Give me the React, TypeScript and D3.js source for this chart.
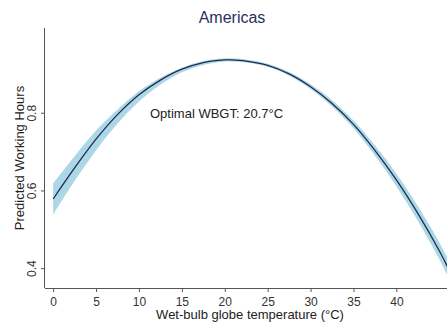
import React, { useEffect, useRef } from "react";
import * as d3 from "d3";

const wbgt = [0, 2.5, 5, 7.5, 10, 12.5, 15, 17.5, 20, 20.7, 22.5, 25, 27.5, 30, 32.5, 35, 37.5, 40, 42.5, 45, 46];
const predicted = [0.578, 0.658, 0.732, 0.795, 0.846, 0.884, 0.912, 0.929, 0.936, 0.936, 0.933, 0.922, 0.9, 0.867, 0.824, 0.77, 0.703, 0.627, 0.541, 0.445, 0.402];
const lower = [0.538, 0.624, 0.703, 0.772, 0.829, 0.872, 0.904, 0.923, 0.932, 0.932, 0.929, 0.918, 0.895, 0.861, 0.816, 0.76, 0.69, 0.611, 0.522, 0.423, 0.379];
const upper = [0.618, 0.688, 0.754, 0.808, 0.855, 0.89, 0.916, 0.933, 0.94, 0.94, 0.937, 0.926, 0.905, 0.873, 0.832, 0.78, 0.716, 0.643, 0.56, 0.467, 0.425];
const xTicks = [0, 5, 10, 15, 20, 25, 30, 35, 40];
const yTicks = [0.4, 0.6, 0.8];
const title = "Americas";
const optimalLabel = "Optimal WBGT: 20.7°C";

const W = 447;
const H = 323;

const App = () => {
  const svgRef = useRef<SVGSVGElement>(null);

  useEffect(() => {
    const svg = d3.select(svgRef.current);
    svg.selectAll("*").remove();

    const left = 45, right = 447, top = 28, bottom = 288;
    const x = d3.scaleLinear().domain([-0.95, 45.9]).range([left, right]);
    const y = d3.scaleLinear().domain([0.349, 1.018]).range([bottom, top]);

    const rows = wbgt.map((t, i) => ({ t, p: predicted[i], lo: lower[i], hi: upper[i] }));

    svg.append("defs")
      .append("clipPath")
      .attr("id", "plotClip")
      .append("rect")
      .attr("x", left)
      .attr("y", top)
      .attr("width", right - left)
      .attr("height", bottom - top);

    const plot = svg.append("g").attr("clip-path", "url(#plotClip)");

    const area = d3.area<any>()
      .x((d) => x(d.t))
      .y0((d) => y(d.lo))
      .y1((d) => y(d.hi))
      .curve(d3.curveCatmullRom);
    plot.append("path").datum(rows).attr("d", area).attr("fill", "#acd7e6");

    const line = d3.line<any>()
      .x((d) => x(d.t))
      .y((d) => y(d.p))
      .curve(d3.curveCatmullRom);
    plot.append("path")
      .datum(rows)
      .attr("d", line)
      .attr("fill", "none")
      .attr("stroke", "#1f2b52")
      .attr("stroke-width", 1.3);

    const font = "'Liberation Sans', Arial, sans-serif";

    // x axis
    const gx = svg.append("g")
      .attr("transform", `translate(0,${bottom})`)
      .call(d3.axisBottom(x).tickValues(xTicks).tickSize(4).tickSizeOuter(0).tickPadding(5));
    gx.select(".domain").attr("stroke", "#555").attr("d", `M${left},0.5H${right}`);
    gx.selectAll(".tick line").attr("stroke", "#555");
    gx.selectAll(".tick text").attr("fill", "#333").style("font-family", font).style("font-size", "12px");

    // y axis
    const gy = svg.append("g")
      .attr("transform", `translate(${left},0)`)
      .call(d3.axisLeft(y).tickValues(yTicks).tickFormat(d3.format(".1f")).tickSize(4).tickSizeOuter(0));
    gy.select(".domain").attr("stroke", "#555").attr("d", `M-0.5,${top}V${bottom}`);
    gy.selectAll(".tick line").attr("stroke", "#555");
    gy.selectAll(".tick text")
      .attr("fill", "#333")
      .attr("x", null)
      .attr("dy", null)
      .attr("text-anchor", "middle")
      .attr("transform", "translate(-9,0) rotate(-90)")
      .style("font-family", font)
      .style("font-size", "12px");

    svg.append("text")
      .attr("x", 232)
      .attr("y", 23)
      .attr("text-anchor", "middle")
      .attr("fill", "#27335e")
      .style("font-family", font)
      .style("font-size", "16px")
      .text(title);

    svg.append("text")
      .attr("x", 250)
      .attr("y", 319)
      .attr("text-anchor", "middle")
      .attr("fill", "#222")
      .style("font-family", font)
      .style("font-size", "13px")
      .text("Wet-bulb globe temperature (°C)");

    svg.append("text")
      .attr("transform", `translate(24,${(top + bottom) / 2}) rotate(-90)`)
      .attr("text-anchor", "middle")
      .attr("fill", "#222")
      .style("font-family", font)
      .style("font-size", "13px")
      .text("Predicted Working Hours");

    svg.append("text")
      .attr("x", 150)
      .attr("y", 118)
      .attr("fill", "#222")
      .style("font-family", font)
      .style("font-size", "13px")
      .text(optimalLabel);
  }, []);

  return (
    <svg
      ref={svgRef}
      width={W}
      height={H}
      style={{ position: "absolute", left: 0, top: 0, background: "white" }}
    ></svg>
  );
};

export default App;
